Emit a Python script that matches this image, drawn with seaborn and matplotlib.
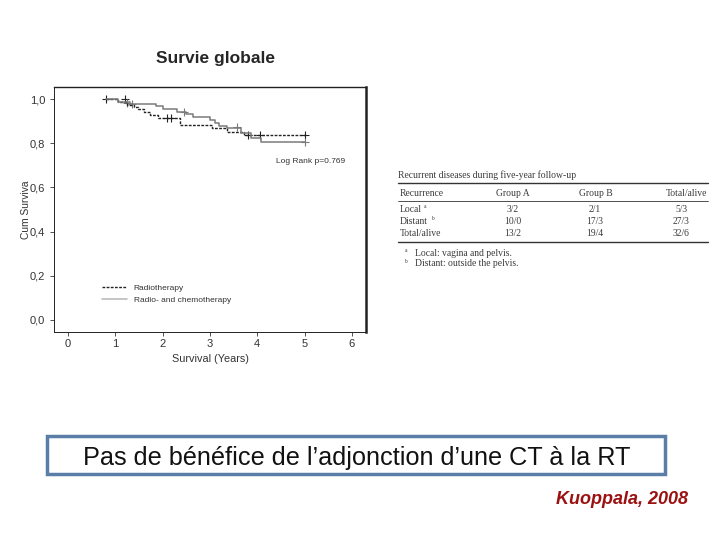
import matplotlib
matplotlib.use('Agg')
import matplotlib.pyplot as plt
import seaborn as sns
from matplotlib.patches import Rectangle

# Kaplan-Meier curves
rt_time = [0.8, 1.05, 1.25, 1.4, 1.48, 1.6, 1.73, 1.9, 2.37, 3.05, 3.36, 3.72, 5.0]
rt_surv = [1.0, 0.985, 0.975, 0.965, 0.955, 0.941, 0.929, 0.914, 0.884, 0.868, 0.853, 0.838, 0.838]
rt_cens_t = [0.8, 1.21, 2.1, 2.17, 3.8, 4.05, 5.0]
rt_cens_s = [1.0, 1.0, 0.914, 0.914, 0.838, 0.838, 0.838]

ch_time = [0.8, 1.05, 1.3, 1.85, 2.0, 2.3, 2.5, 2.65, 3.0, 3.1, 3.2, 3.35, 3.65, 3.86, 4.07, 5.0]
ch_surv = [1.0, 0.985, 0.978, 0.968, 0.955, 0.942, 0.932, 0.92, 0.905, 0.89, 0.878, 0.868, 0.846, 0.823, 0.808, 0.808]
ch_cens_t = [1.25, 1.35, 2.45, 3.58, 5.0]
ch_cens_s = [0.982, 0.978, 0.942, 0.872, 0.808]

y_ticks = [0.0, 0.2, 0.4, 0.6, 0.8, 1.0]
y_labels = ['0,0', '0,2', '0,4', '0,6', '0,8', '1,0']
x_ticks = [0, 1, 2, 3, 4, 5, 6]

# recurrence table
tab_cols = ['Recurrence', 'Group A', 'Group B', 'Total/alive']
tab_rows = ['Local', 'Distant', 'Total/alive']
tab_marks = ['a', 'b', '']
group_a = ['3/2', '10/0', '13/2']
group_b = ['2/1', '17/3', '19/4']
total = ['5/3', '27/3', '32/6']
notes = ['Local: vagina and pelvis.', 'Distant: outside the pelvis.']

sns.set_style('white')
plt.rcParams['font.family'] = ['Liberation Sans', 'DejaVu Sans']

W, H = 720, 540
fig = plt.figure(figsize=(7.2, 5.4), dpi=100)

def fx(px):
    return px / W

def fy(py):
    return 1 - py / H

ax = fig.add_axes([fx(54), fy(332), fx(366) - fx(54), fy(87) - fy(332)])
sns.lineplot(x=rt_time, y=rt_surv, ax=ax, drawstyle='steps-post', color='#222222',
             linestyle=(0, (2, 1)), linewidth=1.0, label='Radiotherapy')
sns.lineplot(x=ch_time, y=ch_surv, ax=ax, drawstyle='steps-post', color='#7a7a7a',
             linewidth=1.1, label='Radio- and chemotherapy')
sns.scatterplot(x=rt_cens_t, y=rt_cens_s, ax=ax, marker='+', color='#222222', s=30,
                linewidth=0.8, legend=False)
sns.scatterplot(x=ch_cens_t, y=ch_cens_s, ax=ax, marker='+', color='#7a7a7a', s=30,
                linewidth=0.8, legend=False)

ax.set_xlim(-0.3, 6.3)
ax.set_ylim(-0.055, 1.055)
ax.set_xticks(x_ticks)
ax.set_yticks(y_ticks)
ax.set_yticklabels(y_labels)
ax.tick_params(labelsize=8, colors='#333333', length=3, width=0.6)
ax.tick_params(axis='y', left=True)
ax.tick_params(axis='x', bottom=True, pad=2)
ax.set_xlabel('Survival (Years)', fontsize=7.8, color='#333333', labelpad=4)
ax.set_ylabel('Cum Surviva', fontsize=7.4, color='#333333', labelpad=-1)
for side, lw in [('left', 0.7), ('bottom', 0.7), ('top', 1.0), ('right', 1.8)]:
    ax.spines[side].set_color('#222222')
    ax.spines[side].set_linewidth(lw)
ax.text(4.4, 0.716, 'Log Rank p=0.769', fontsize=6, color='#333333', va='center')
leg = ax.legend(loc='lower left', bbox_to_anchor=(0.13, 0.085), frameon=False, fontsize=6,
                handlelength=3, labelspacing=0.45, handletextpad=0.8)
for t in leg.get_texts():
    t.set_color('#333333')
leg.get_lines()[1].set_color('#b5b5b5')

fig.text(fx(216), fy(58), 'Survie globale', fontsize=12.5, fontweight='bold', ha='center', va='center')

# table
serif = ['Liberation Serif', 'DejaVu Serif']
tc = '#3a3a3a'
fs = 6.9
fig.text(fx(398), fy(175), 'Recurrent diseases during five-year follow-up', fontsize=fs,
         family=serif, color=tc, va='center')
for py, lw in [(183, 1.0), (201, 0.6), (242, 1.0)]:
    fig.add_artist(plt.Line2D([fx(398), fx(708)], [fy(py), fy(py)], color='#333333', linewidth=lw))
col_x = [400, 513, 596, 687]
for i, c in enumerate(tab_cols):
    fig.text(fx(col_x[i]), fy(193), c, fontsize=fs, family=serif, color=tc,
             ha='left' if i == 0 else 'center', va='center')
row_y = [209, 222, 234]
val_x = [513, 595, 681]
for j, r in enumerate(tab_rows):
    fig.text(fx(400), fy(row_y[j]), r, fontsize=fs, family=serif, color=tc, va='center')
    if tab_marks[j]:
        fig.text(fx(400 + (24 if j == 0 else 32)), fy(row_y[j] - 3), tab_marks[j], fontsize=4,
                 family=serif, color=tc, va='center')
    for k, vals in enumerate([group_a, group_b, total]):
        fig.text(fx(val_x[k]), fy(row_y[j]), vals[j], fontsize=fs, family=serif,
                 color=tc, ha='center', va='center')
for j, n in enumerate(notes):
    y0 = 253 + 11 * j
    fig.text(fx(405), fy(y0 - 3), 'ab'[j], fontsize=4, family=serif, color=tc, va='center')
    fig.text(fx(415), fy(y0), n, fontsize=fs, family=serif, color=tc, va='center')

# conclusion box
fig.add_artist(Rectangle((fx(47), fy(474)), fx(665) - fx(47), fy(436) - fy(474),
                         fill=False, edgecolor='#5a7ea8', linewidth=2.5))
fig.text(fx(357), fy(458), 'Pas de bénéfice de l’adjonction d’une CT à la RT', fontsize=18.2,
         ha='center', va='center', color='#111111')
fig.text(fx(688), fy(500), 'Kuoppala, 2008', fontsize=13, fontweight='bold', style='italic',
         color='#9b1111', ha='right', va='center')

fig.savefig('out.png', dpi=100)
